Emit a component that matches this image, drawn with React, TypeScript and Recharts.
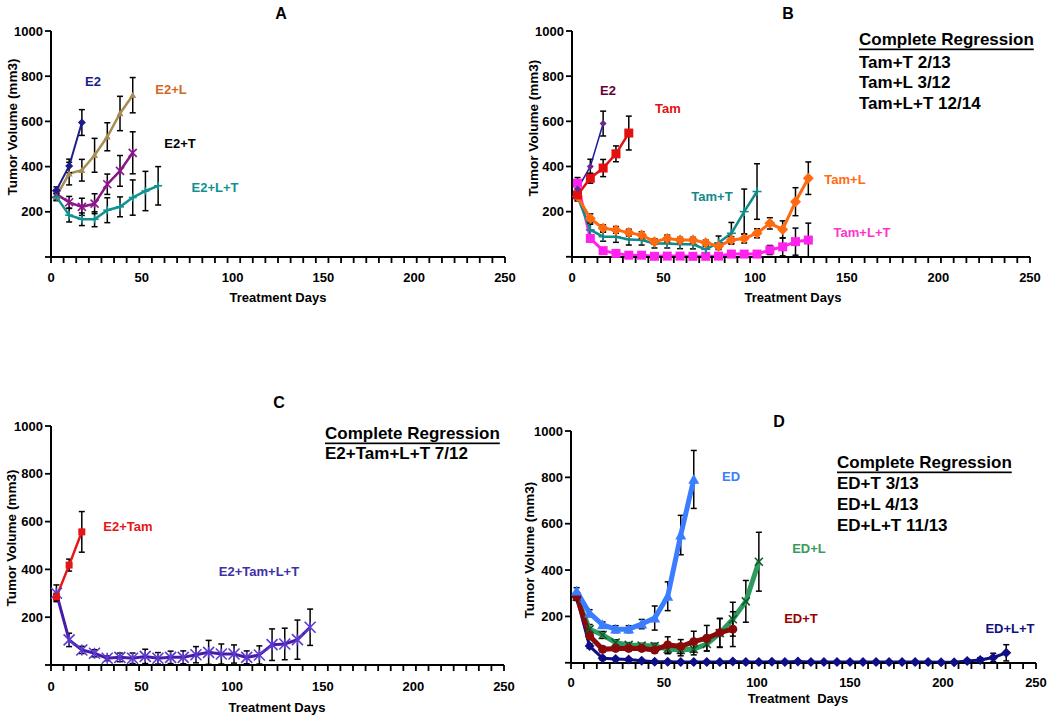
import { LineChart, Line, XAxis, YAxis, ErrorBar } from "recharts";

const FONT = "'Liberation Sans', Arial, Helvetica, sans-serif";

// weekly measurement days (treatment days)
const DAYS = [
  3, 10, 17, 24, 31, 38, 45, 52, 59, 66, 73, 80, 87, 94, 101, 108, 115, 122,
  129, 136, 143, 150, 157, 164, 171, 178, 185, 192, 199, 206, 213, 220, 227, 234,
];

const X_LABELS = [0, 50, 100, 150, 200, 250];
const LABEL_ONLY = [50, 100, 150, 200];
const Y_TICKS = [0, 200, 400, 600, 800, 1000];

// ---- Panel A ----
const aE2 = [295, 403, 595];
const aE2Err = [15, 30, 57];
const aE2L = [269, 369, 384, 450, 532, 635, 716];
const aE2LErr = [20, 50, 48, 75, 62, 76, 78];
const aE2T = [278, 242, 222, 236, 322, 381, 461];
const aE2TErr = [20, 26, 38, 44, 45, 68, 93];
const aE2LT = [266, 185, 167, 167, 207, 222, 263, 292, 315];
const aE2LTErr = [15, 30, 28, 33, 55, 44, 78, 87, 85];

// ---- Panel B ----
const bE2 = [300, 400, 590];
const bE2Err = [20, 32, 55];
const bTam = [274, 348, 393, 456, 548];
const bTamErr = [15, 22, 38, 35, 75];
const bTamT = [267, 119, 89, 89, 77, 74, 59, 59, 56, 55, 33, 62, 104, 200, 289];
const bTamTErr = [20, 25, 20, 25, 25, 22, 20, 20, 20, 20, 15, 30, 48, 100, 123];
const bTamL = [267, 170, 126, 119, 107, 96, 67, 81, 74, 74, 62, 47, 74, 81, 104, 148, 121, 244, 348];
const bTamLErr = [15, 20, 15, 15, 15, 15, 12, 15, 12, 12, 12, 12, 15, 20, 20, 25, 38, 62, 72];
const bTamLT = [326, 81, 27, 15, 7, 7, 2, 3, 3, 2, 2, 3, 12, 12, 12, 30, 44, 67, 74];
const bTamLTErr = [25, 15, 10, 8, 5, 5, 3, 3, 3, 3, 3, 3, 8, 8, 8, 20, 40, 60, 75];

// ---- Panel C ----
const cE2Tam = [285, 418, 557];
const cE2TamErr = [15, 25, 85];
const cE2TamLT = [300, 105, 63, 49, 28, 32, 28, 36, 28, 32, 32, 43, 53, 46, 46, 32, 42, 85, 88, 106, 158];
const cE2TamLTErr = [35, 28, 15, 15, 10, 18, 22, 30, 24, 26, 27, 34, 50, 42, 38, 27, 38, 66, 66, 82, 76];

// ---- Panel D ----
const dED = [309, 214, 164, 145, 145, 167, 193, 287, 551, 791];
const dEDErr = [15, 15, 12, 15, 15, 20, 52, 62, 85, 125];
const dEDL = [285, 145, 120, 87, 77, 74, 72, 59, 55, 59, 81, 128, 188, 265, 436];
const dEDLErr = [15, 20, 15, 12, 10, 10, 12, 20, 25, 25, 30, 62, 73, 90, 127];
const dEDT = [287, 116, 58, 62, 62, 62, 55, 77, 70, 91, 106, 130, 145];
const dEDTErr = [15, 15, 12, 10, 12, 10, 10, 35, 30, 45, 55, 62, 75];
const dEDLT = [284, 72, 19, 16, 14, 9, 4, 4, 3, 3, 3, 3, 5, 3, 3, 4, 3, 5, 3, 3, 3, 3, 3, 3, 3, 3, 3, 3, 2, 2, 8, 12, 23, 43];
const dEDLTErr = [15, 10, 8, 6, 5, 4, 3, 3, 3, 3, 3, 3, 3, 3, 3, 3, 3, 3, 3, 3, 3, 3, 3, 3, 3, 3, 3, 3, 3, 3, 6, 10, 18, 35];

// minor x tick marks: 36 divisions of the 0-250 axis, plus the labelled values
const MINOR = Array.from({ length: 37 }, (_, i) => (i * 250) / 36);
const X_TICKS = [...MINOR, ...LABEL_ONLY].sort((a, b) => a - b);

const rows = (vals: number[], errs: number[]) =>
  vals.map((v, i) => ({ day: DAYS[i], v, e: errs[i] }));

type Marker = { shape: string; size: number; fill: string };

function marker(m: Marker) {
  return (p: any) => {
    const { cx, cy, index } = p;
    if (cx == null || cy == null) return <g key={index} />;
    const s = m.size / 2;
    switch (m.shape) {
      case "diamond":
        return (
          <polygon key={index} fill={m.fill}
            points={`${cx},${cy - s} ${cx + s},${cy} ${cx},${cy + s} ${cx - s},${cy}`} />
        );
      case "square":
        return <rect key={index} x={cx - s} y={cy - s} width={m.size} height={m.size} fill={m.fill} />;
      case "triangle":
        return (
          <polygon key={index} fill={m.fill}
            points={`${cx},${cy - s} ${cx + s},${cy + s * 0.8} ${cx - s},${cy + s * 0.8}`} />
        );
      case "circle":
        return <circle key={index} cx={cx} cy={cy} r={s} fill={m.fill} />;
      case "star":
        return (
          <g key={index} stroke={m.fill} strokeWidth={1.6}>
            <line x1={cx - s} y1={cy - s} x2={cx + s} y2={cy + s} />
            <line x1={cx - s} y1={cy + s} x2={cx + s} y2={cy - s} />
            <line x1={cx} y1={cy - s} x2={cx} y2={cy + s} />
          </g>
        );
      case "plus":
        return (
          <g key={index} stroke={m.fill} strokeWidth={1.6}>
            <line x1={cx - s} y1={cy} x2={cx + s} y2={cy} />
            <line x1={cx} y1={cy - s} x2={cx} y2={cy + s} />
          </g>
        );
      default:
        return (
          <g key={index} stroke={m.fill} strokeWidth={1.6}>
            <line x1={cx - s} y1={cy - s} x2={cx + s} y2={cy + s} />
            <line x1={cx - s} y1={cy + s} x2={cx + s} y2={cy - s} />
          </g>
        );
    }
  };
}

function XTick(props: any) {
  const { x, y, payload, labelGap } = props;
  const v = payload.value;
  return (
    <g>
      {!LABEL_ONLY.includes(v) && (
        <line x1={x} x2={x} y1={y} y2={y + 6} stroke="#000" strokeWidth={1.8} />
      )}
      {X_LABELS.includes(v) && (
        <text x={x} y={y + labelGap} textAnchor="middle" dominantBaseline="central"
          fontFamily={FONT} fontWeight="bold" fontSize={13} fill="#000">
          {v}
        </text>
      )}
    </g>
  );
}

function YTick(props: any) {
  const { x, y, payload } = props;
  const v = payload.value;
  return (
    <g>
      <line x1={x - 6} x2={x} y1={y} y2={y} stroke="#000" strokeWidth={1.8} />
      {v !== 0 && (
        <text x={x - 8} y={y} textAnchor="end" dominantBaseline="central"
          fontFamily={FONT} fontWeight="bold" fontSize={13} fill="#000">
          {v}
        </text>
      )}
    </g>
  );
}

type Series = { name: string; vals: number[]; errs: number[]; color: string; width: number; m: Marker };

function Panel(props: {
  left: number; top: number; width: number; height: number; right: number; labelGap: number; series: Series[];
}) {
  const { left, top, width, height, right, labelGap, series } = props;
  return (
    <div style={{ position: "absolute", left, top }}>
      <LineChart width={width} height={height} margin={{ top: 31, right, bottom: 0, left: 0 }}>
        <XAxis type="number" dataKey="day" domain={[0, 250]} ticks={X_TICKS} interval={0}
          tick={(p: any) => <XTick {...p} labelGap={labelGap} />} tickLine={false} tickSize={0} tickMargin={0}
          height={50} axisLine={{ stroke: "#000", strokeWidth: 2 }} />
        <YAxis type="number" domain={[0, 1000]} ticks={Y_TICKS} interval={0}
          tick={(p: any) => <YTick {...p} />} tickLine={false} tickSize={0} tickMargin={0}
          width={51} axisLine={{ stroke: "#000", strokeWidth: 2 }} />
        {series.map((s) => (
          <Line key={s.name} name={s.name} data={rows(s.vals, s.errs)} dataKey="v" type="linear"
            stroke={s.color} strokeWidth={s.width} dot={marker(s.m)} activeDot={false}
            isAnimationActive={false}>
            <ErrorBar dataKey="e" width={3} stroke="#000" strokeWidth={1.5} direction="y" />
          </Line>
        ))}
      </LineChart>
    </div>
  );
}

const seriesA: Series[] = [
  { name: "E2+L", vals: aE2L, errs: aE2LErr, color: "#A88D52", width: 2.5, m: { shape: "triangle", size: 7, fill: "#A88D52" } },
  { name: "E2+T", vals: aE2T, errs: aE2TErr, color: "#8B158B", width: 2.5, m: { shape: "star", size: 8, fill: "#8B158B" } },
  { name: "E2+L+T", vals: aE2LT, errs: aE2LTErr, color: "#119191", width: 2.5, m: { shape: "plus", size: 8, fill: "#119191" } },
  { name: "E2", vals: aE2, errs: aE2Err, color: "#1C1C8C", width: 2, m: { shape: "diamond", size: 8, fill: "#1C1C8C" } },
];

const seriesB: Series[] = [
  { name: "Tam+L+T", vals: bTamLT, errs: bTamLTErr, color: "#FF22EE", width: 3, m: { shape: "square", size: 9, fill: "#FF22EE" } },
  { name: "Tam+T", vals: bTamT, errs: bTamTErr, color: "#138A8A", width: 2.5, m: { shape: "plus", size: 9, fill: "#138A8A" } },
  { name: "Tam+L", vals: bTamL, errs: bTamLErr, color: "#FF6A10", width: 3, m: { shape: "diamond", size: 11, fill: "#FF6A10" } },
  { name: "Tam", vals: bTam, errs: bTamErr, color: "#E41010", width: 2.5, m: { shape: "square", size: 9, fill: "#E41010" } },
  { name: "E2", vals: bE2, errs: bE2Err, color: "#1A1AA0", width: 1.5, m: { shape: "diamond", size: 7, fill: "#6A2A8A" } },
];

const seriesC: Series[] = [
  { name: "E2+Tam+L+T", vals: cE2TamLT, errs: cE2TamLTErr, color: "#4A1AA8", width: 3, m: { shape: "star", size: 11, fill: "#5A3AD0" } },
  { name: "E2+Tam", vals: cE2Tam, errs: cE2TamErr, color: "#E81515", width: 2.5, m: { shape: "square", size: 7, fill: "#E81515" } },
];

const seriesD: Series[] = [
  { name: "ED+L+T", vals: dEDLT, errs: dEDLTErr, color: "#0E0E86", width: 3, m: { shape: "diamond", size: 10, fill: "#0E0E86" } },
  { name: "ED+L", vals: dEDL, errs: dEDLErr, color: "#2E9A5E", width: 5, m: { shape: "x", size: 8, fill: "#0F5A2A" } },
  { name: "ED+T", vals: dEDT, errs: dEDTErr, color: "#8A0A0A", width: 5, m: { shape: "circle", size: 9, fill: "#8A0A0A" } },
  { name: "ED", vals: dED, errs: dEDErr, color: "#3A7DFF", width: 5, m: { shape: "triangle", size: 11, fill: "#3A7DFF" } },
];

function T(props: { x: number; y: number; c?: string; s?: number; a?: "start" | "middle" | "end"; u?: boolean; children: any }) {
  const { x, y, c = "#000", s = 13, a = "middle", u = false, children } = props;
  return (
    <text x={x} y={y} fill={c} fontSize={s} fontWeight="bold" fontFamily={FONT} textAnchor={a}
      dominantBaseline="central" textDecoration={u ? "underline" : undefined} style={{ whiteSpace: "pre" }}>
      {children}
    </text>
  );
}

function YLabel({ x, y }: { x: number; y: number }) {
  return (
    <text x={x} y={y} transform={`rotate(-90 ${x} ${y})`} textAnchor="middle" dominantBaseline="central"
      fontFamily={FONT} fontWeight="bold" fontSize={13.5} fill="#000">
      Tumor Volume (mm3)
    </text>
  );
}

export default function App() {
  return (
    <div style={{ position: "absolute", left: 0, top: 0, width: 1050, height: 719, background: "#fff", overflow: "hidden" }}>
      <Panel left={0} top={0} width={520} height={307} right={15} labelGap={20} series={seriesA} />
      <Panel left={521} top={0} width={524} height={307} right={15} labelGap={20} series={seriesB} />
      <Panel left={0} top={395} width={519} height={320} right={15} labelGap={21} series={seriesC} />
      <Panel left={520} top={400} width={528} height={313} right={12} labelGap={19} series={seriesD} />

      <svg width={1050} height={719} style={{ position: "absolute", left: 0, top: 0, pointerEvents: "none" }}>
        {/* A */}
        <T x={281} y={13} s={16}>A</T>
        <T x={93} y={81} c="#1C1C8C">E2</T>
        <T x={171} y={89} c="#D2691E">E2+L</T>
        <T x={180} y={143}>E2+T</T>
        <T x={215} y={187} c="#119191">E2+L+T</T>
        <YLabel x={12} y={127} />
        <T x={278} y={297}>Treatment Days</T>

        {/* B */}
        <T x={788} y={13} s={16}>B</T>
        <T x={608} y={90} c="#660033">E2</T>
        <T x={668} y={108} c="#E41010">Tam</T>
        <T x={712} y={196} c="#138A8A">Tam+T</T>
        <T x={845} y={179} c="#FF6A10">Tam+L</T>
        <T x={862} y={232} c="#FF33CC">Tam+L+T</T>
        <T x={859} y={39} s={17} a="start" u>Complete Regression</T>
        <T x={859} y={62} s={17} a="start">Tam+T 2/13</T>
        <T x={859} y={82} s={17} a="start">Tam+L 3/12</T>
        <T x={859} y={103} s={17} a="start">Tam+L+T 12/14</T>
        <YLabel x={533} y={128} />
        <T x={793} y={297}>Treatment Days</T>

        {/* C */}
        <T x={279} y={402} s={16}>C</T>
        <T x={128} y={526} c="#E81515">E2+Tam</T>
        <T x={259} y={571} c="#4030A8">E2+Tam+L+T</T>
        <T x={325} y={433} s={17} a="start" u>Complete Regression</T>
        <T x={325} y={453} s={17} a="start">E2+Tam+L+T 7/12</T>
        <YLabel x={11} y={538} />
        <T x={277} y={707}>Treatment Days</T>

        {/* D */}
        <T x={779} y={421} s={16}>D</T>
        <T x={731} y={476} c="#3A7DFF">ED</T>
        <T x={809} y={548} c="#3A9A5A">ED+L</T>
        <T x={801} y={618} c="#990000">ED+T</T>
        <T x={1010} y={628} c="#101080">ED+L+T</T>
        <T x={837} y={462} s={17} a="start" u>Complete Regression</T>
        <T x={837} y={483} s={17} a="start">ED+T 3/13</T>
        <T x={837} y={504} s={17} a="start">ED+L 4/13</T>
        <T x={837} y={525} s={17} a="start">ED+L+T 11/13</T>
        <YLabel x={529} y={550} />
        <T x={798} y={698}>{"Treatment  Days"}</T>
      </svg>
    </div>
  );
}
